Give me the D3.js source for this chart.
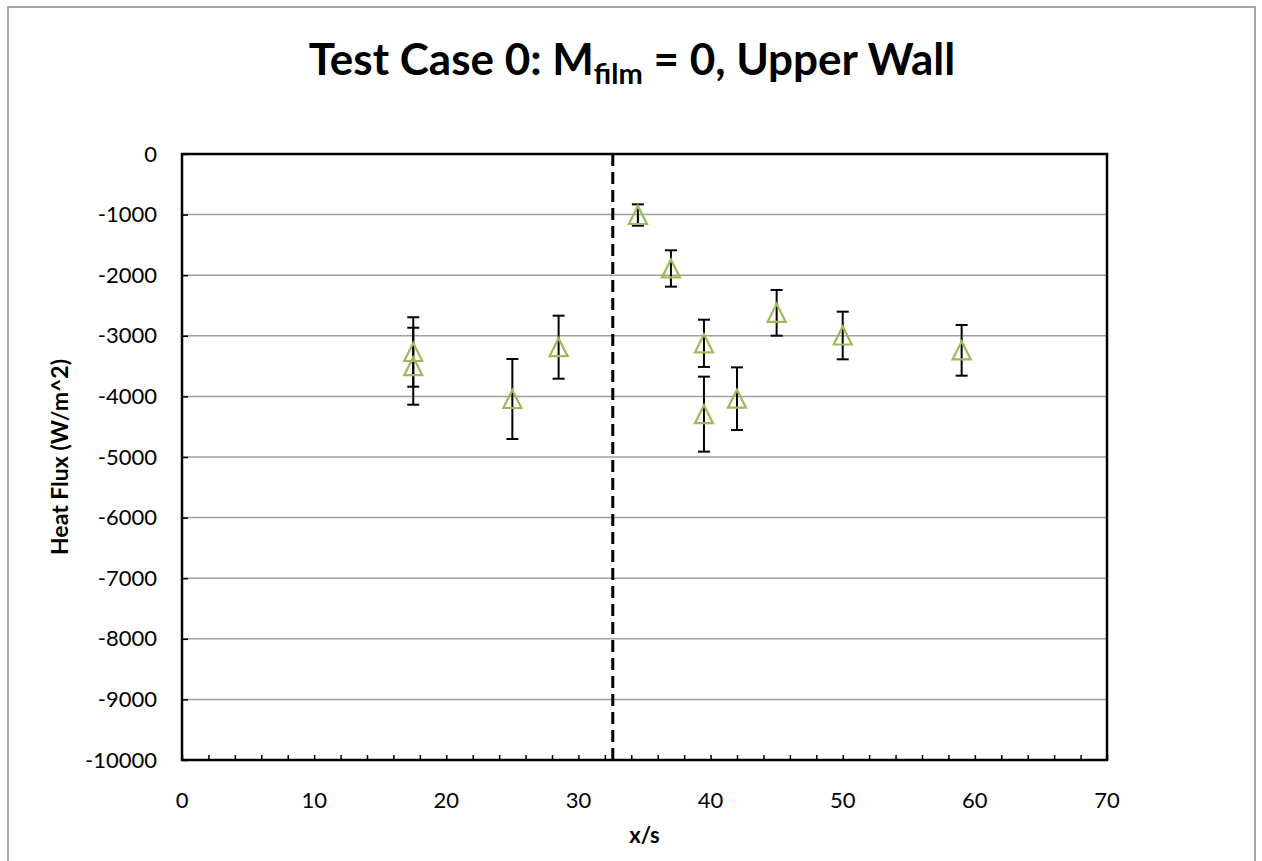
<!DOCTYPE html>
<html>
<head>
<meta charset="utf-8">
<script src="https://cdn.jsdelivr.net/npm/d3@7"></script>
<style>
  body { margin: 0; background: #fff; }
  svg text { font-family: Lato, "Open Sans", sans-serif; fill: #000; }
</style>
</head>
<body>
<svg id="chart"></svg>
<script>
// data
var xPos = [17.5, 17.5, 25, 28.5, 34.5, 37, 39.5, 39.5, 42, 45, 50, 59];
var heatFlux = [-3267, -3502, -4043, -3188, -1007, -1889, -3124, -4293, -4038, -2621, -2995, -3240];
var errBar = [573, 635, 660, 520, 176, 300, 390, 619, 517, 377, 393, 418];
var dividerX = 32.6;
var yTicks = [0, -1000, -2000, -3000, -4000, -5000, -6000, -7000, -8000, -9000, -10000];
var xTicks = [0, 10, 20, 30, 40, 50, 60, 70];

var data = xPos.map(function(x, i) { return {x: x, y: heatFlux[i], e: errBar[i]}; });

// sizes
const width = 1262;
const height = 861;
const margin = {left: 182, right: 155, top: 154, bottom: 101};
const visWidth = width - margin.left - margin.right;
const visHeight = height - margin.top - margin.bottom;

var root = d3.select('svg#chart').attr('width', width).attr('height', height);

// chart area border
root.append('rect')
    .attr('x', 8).attr('y', 7)
    .attr('width', 1247).attr('height', 870)
    .attr('fill', 'none').attr('stroke', '#898989').attr('stroke-width', 1.5);

var svg = root.append('g').attr('transform', 'translate(' + margin.left + ', ' + margin.top + ')');

var x = d3.scaleLinear().domain([0, 70]).range([0, visWidth]);
var y = d3.scaleLinear().domain([-10000, 0]).range([visHeight, 0]);

// gridlines
svg.append('g')
    .selectAll('line')
    .data(yTicks.filter(function(d) { return d != 0 && d != -10000; }))
    .enter().append('line')
    .attr('x1', 0).attr('x2', visWidth)
    .attr('y1', d => y(d)).attr('y2', d => y(d))
    .attr('stroke', '#a0a0a0').attr('stroke-width', 1.5);

// y axis
var yAxis = svg.append('g')
    .call(d3.axisLeft(y).tickValues(yTicks).tickSize(-6).tickPadding(25).tickFormat(d => String(d)));
yAxis.select('.domain').remove();
yAxis.selectAll('line').attr('stroke', '#000').attr('stroke-width', 1.5);
yAxis.selectAll('text').style('font-size', '22px').style('font-family', 'Lato, sans-serif');

// x axis, minor ticks every 2
var xAxis = svg.append('g')
    .attr('transform', 'translate(0,' + visHeight + ')')
    .call(d3.axisBottom(x).tickValues(d3.range(0, 71, 2)).tickSize(-5).tickFormat(''));
xAxis.select('.domain').remove();
xAxis.selectAll('line').attr('stroke', '#000').attr('stroke-width', 1.5);

svg.append('g')
    .attr('transform', 'translate(0,' + visHeight + ')')
    .selectAll('text')
    .data(xTicks)
    .enter().append('text')
    .attr('x', d => x(d))
    .attr('y', 48)
    .attr('text-anchor', 'middle')
    .style('font-size', '22px')
    .text(d => d);

// plot frame
svg.append('rect')
    .attr('width', visWidth).attr('height', visHeight)
    .attr('fill', 'none').attr('stroke', '#000').attr('stroke-width', 2.5);

// dashed divider
svg.append('line')
    .attr('x1', x(dividerX)).attr('x2', x(dividerX))
    .attr('y1', 0).attr('y2', visHeight)
    .attr('stroke', '#000').attr('stroke-width', 3)
    .attr('stroke-dasharray', '12,6');

// error bars
var eb = svg.append('g').selectAll('g')
    .data(data)
    .enter().append('g');
eb.append('line')
    .attr('x1', d => x(d.x)).attr('x2', d => x(d.x))
    .attr('y1', d => y(d.y + d.e)).attr('y2', d => y(d.y - d.e))
    .attr('stroke', '#000').attr('stroke-width', 2);
eb.append('line')
    .attr('x1', d => x(d.x) - 6).attr('x2', d => x(d.x) + 6)
    .attr('y1', d => y(d.y + d.e)).attr('y2', d => y(d.y + d.e))
    .attr('stroke', '#000').attr('stroke-width', 2);
eb.append('line')
    .attr('x1', d => x(d.x) - 6).attr('x2', d => x(d.x) + 6)
    .attr('y1', d => y(d.y - d.e)).attr('y2', d => y(d.y - d.e))
    .attr('stroke', '#000').attr('stroke-width', 2);

// triangle markers
svg.append('g').selectAll('path')
    .data(data)
    .enter().append('path')
    .attr('d', function(d) {
        var cx = x(d.x), cy = y(d.y);
        return 'M' + cx + ',' + (cy - 9) + 'L' + (cx + 9) + ',' + (cy + 9) + 'L' + (cx - 9) + ',' + (cy + 9) + 'Z';
    })
    .attr('fill', 'none')
    .attr('stroke', '#9bbb59')
    .attr('stroke-width', 2.2);

// title
var title = root.append('text')
    .attr('x', 632)
    .attr('y', 75)
    .attr('text-anchor', 'middle')
    .style('font-size', '44px')
    .style('font-weight', 'bold');
title.append('tspan').text('Test Case 0: M');
title.append('tspan').attr('dy', 9).style('font-size', '29px').text('film');
title.append('tspan').attr('dy', -9).text(' = 0, Upper Wall');

// axis labels
root.append('text')
    .attr('x', margin.left + visWidth / 2)
    .attr('y', 843)
    .attr('text-anchor', 'middle')
    .style('font-size', '22px')
    .style('font-weight', 'bold')
    .text('x/s');

root.append('text')
    .attr('transform', 'translate(68,' + (margin.top + visHeight / 2) + ') rotate(-90)')
    .attr('text-anchor', 'middle')
    .style('font-size', '23px')
    .style('font-weight', 'bold')
    .text('Heat Flux (W/m^2)');
</script>
</body>
</html>
